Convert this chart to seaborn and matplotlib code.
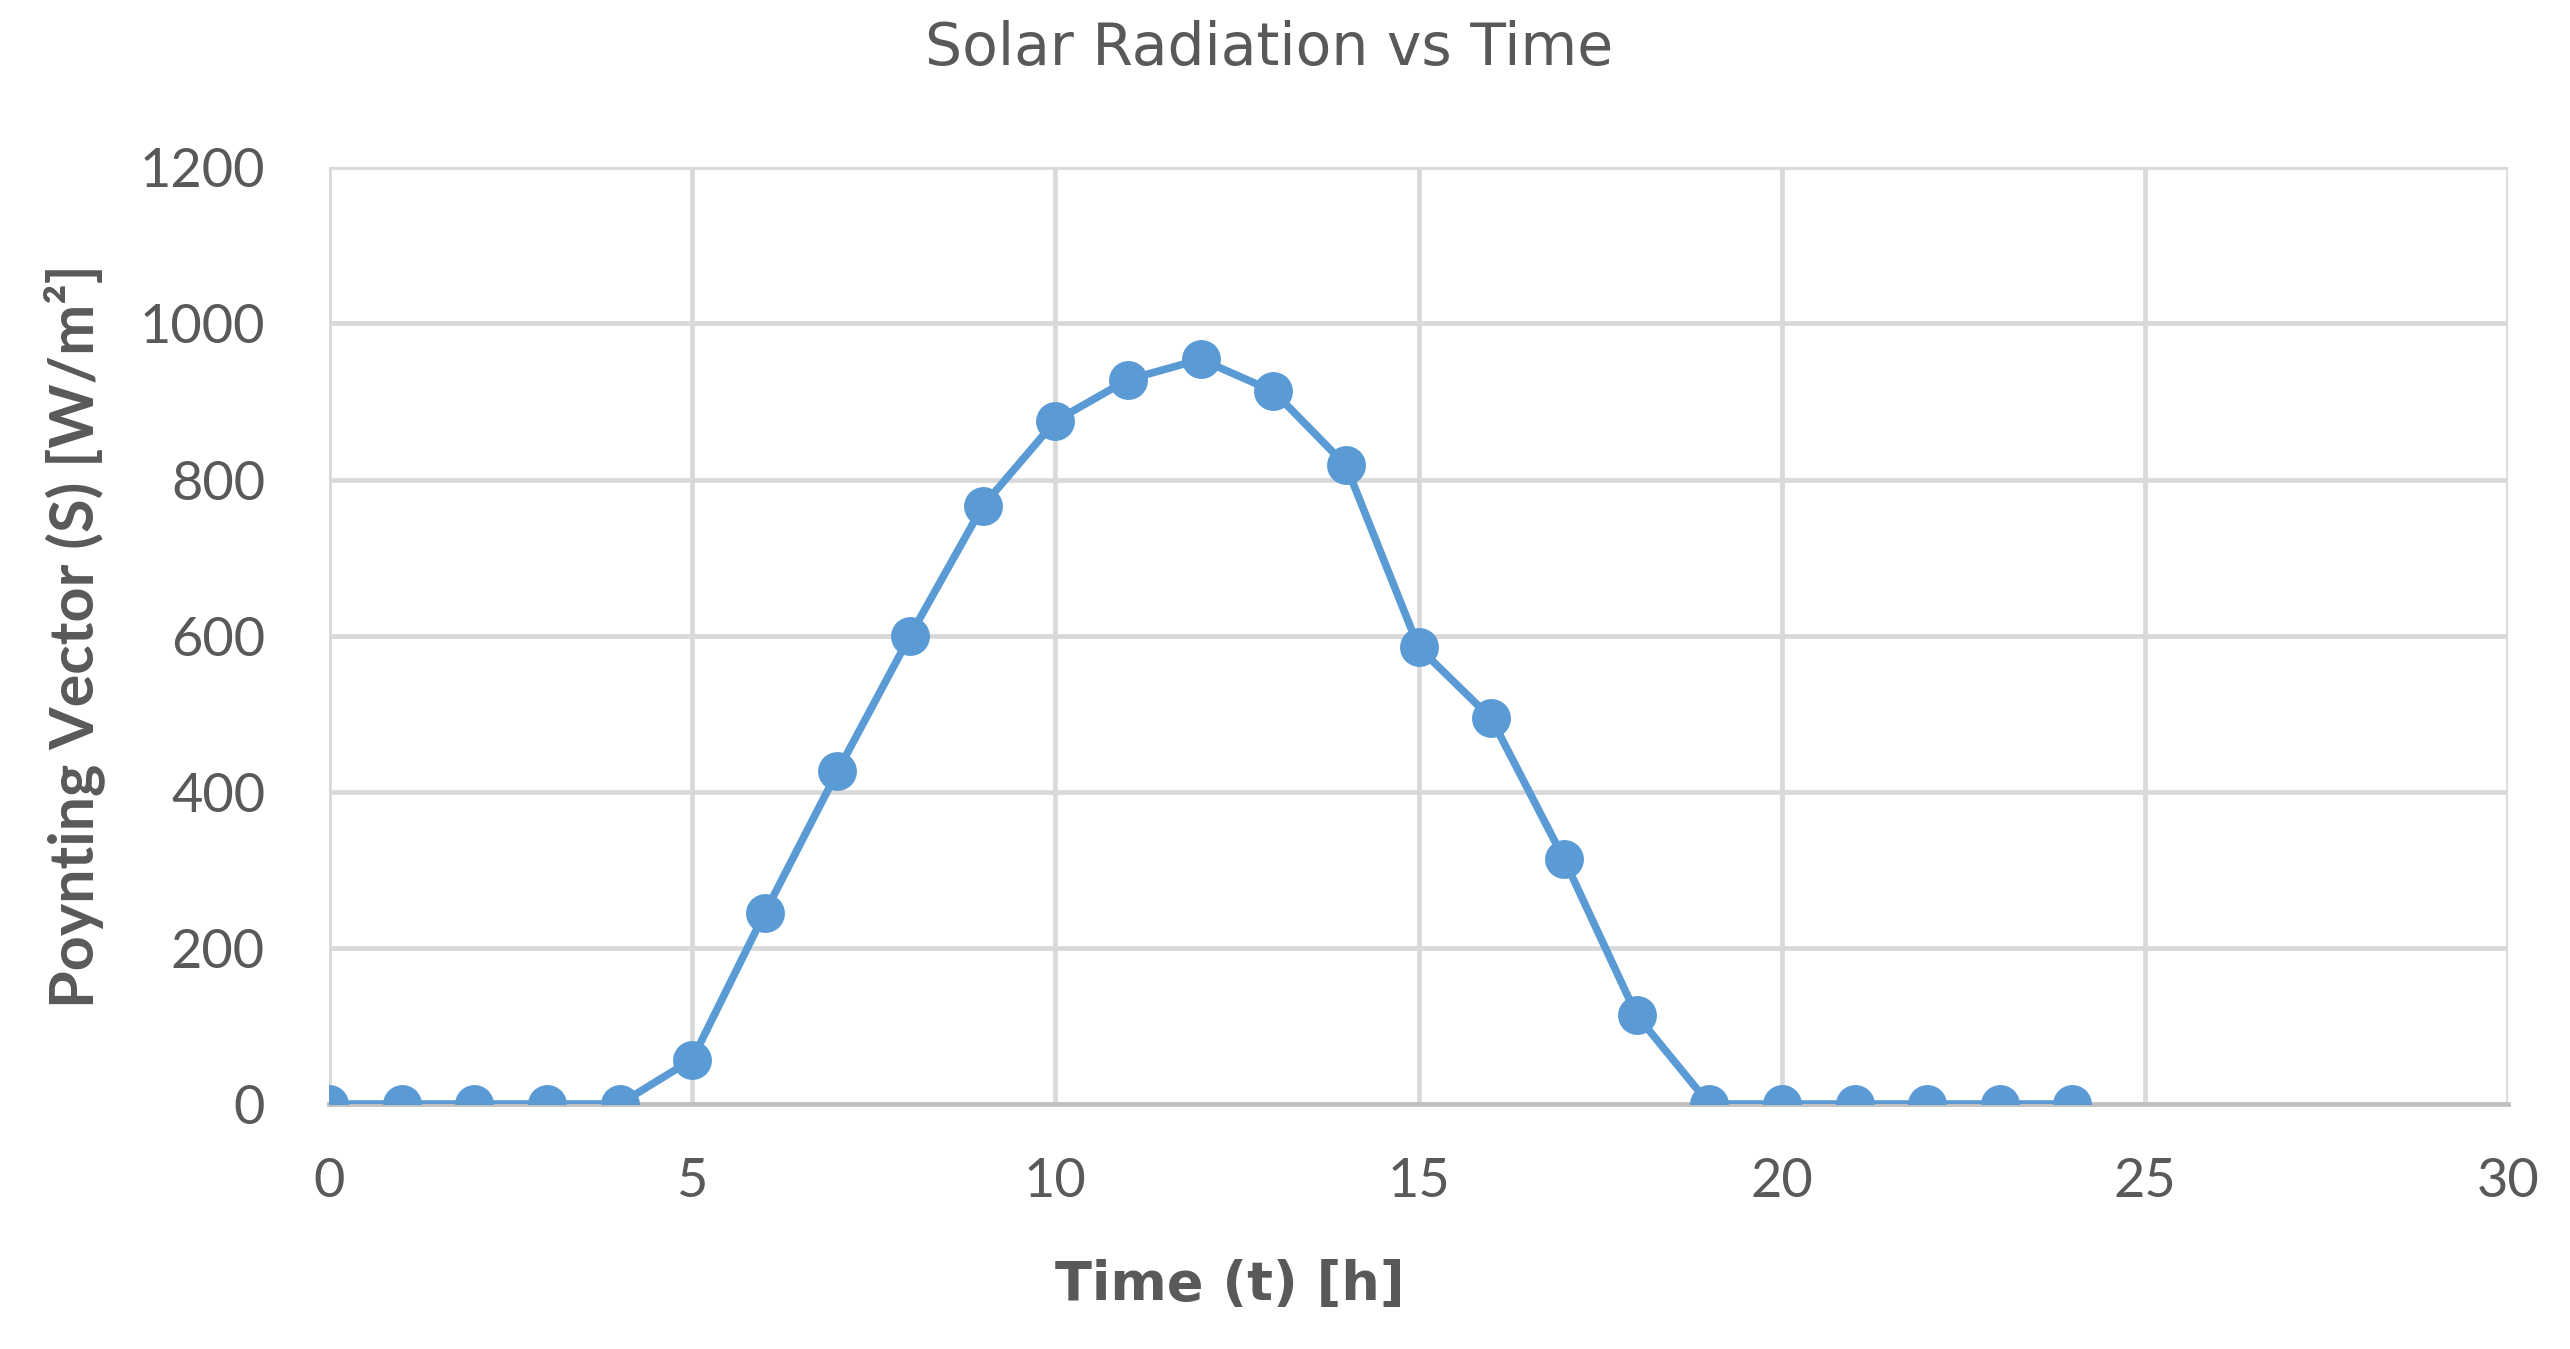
import numpy as np
import pandas as pd
import matplotlib
matplotlib.use("Agg")
import matplotlib.pyplot as plt
import seaborn as sns

# values
hours = list(range(25))
poynting = [0, 0, 0, 0, 0, 57, 245, 426, 600, 766, 875, 928, 954,
            913, 818, 585, 494, 314, 114, 0, 0, 0, 0, 0, 0]
x_ticks = [0, 5, 10, 15, 20, 25, 30]
y_ticks = [0, 200, 400, 600, 800, 1000, 1200]

title_txt = "Solar Radiation vs Time"
xlabel_txt = "Time (t) [h]"
ylabel_txt = "Poynting Vector (S) [W/m²]"

df = pd.DataFrame({"t": hours, "S": poynting})

sns.set_style("white")
plt.rcParams["font.family"] = ["Lato", "DejaVu Sans"]

txt_col = "#595959"
grid_col = "#d9d9d9"
blue = "#5b9bd5"

fig, ax = plt.subplots(figsize=(25.7, 13.49), dpi=100)
fig.subplots_adjust(left=0.128, right=0.976, bottom=0.1816, top=0.876)

sns.lineplot(data=df, x="t", y="S", ax=ax, color=blue, linewidth=5.5,
             marker="o", markersize=28, markeredgewidth=0, zorder=3)

ax.set_xlim(0, 30)
ax.set_ylim(0, 1200)
ax.set_xticks(x_ticks)
ax.set_yticks(y_ticks)
ax.grid(True, color=grid_col, linewidth=3.4)
ax.set_axisbelow(True)
for s in ["top", "right", "left"]:
    ax.spines[s].set_visible(False)
ax.spines["bottom"].set_color("#bfbfbf")
ax.spines["bottom"].set_linewidth(3.4)
ax.spines["bottom"].set_zorder(2)

ax.tick_params(axis="both", length=0, labelsize=39, labelcolor=txt_col)
ax.tick_params(axis="x", pad=38)
ax.tick_params(axis="y", pad=46)

# wide, letter-spaced look of the original -> DejaVu for horizontal labels
ax.set_xlabel(xlabel_txt, fontsize=39, fontweight="bold", color=txt_col,
              family=["DejaVu Sans"])
ax.set_ylabel(ylabel_txt, fontsize=44, fontweight="bold", color=txt_col)
ax.xaxis.label.set_va("center")
ax.yaxis.label.set_va("center")
ax.xaxis.set_label_coords(0.4135, -0.193)
ax.yaxis.set_label_coords(-0.117, 0.5)

fig.text(0.4938, 0.9637, title_txt, ha="center", va="center",
         fontsize=42, color=txt_col, family=["DejaVu Sans"])

fig.savefig("out.png", dpi=100, facecolor="white")
